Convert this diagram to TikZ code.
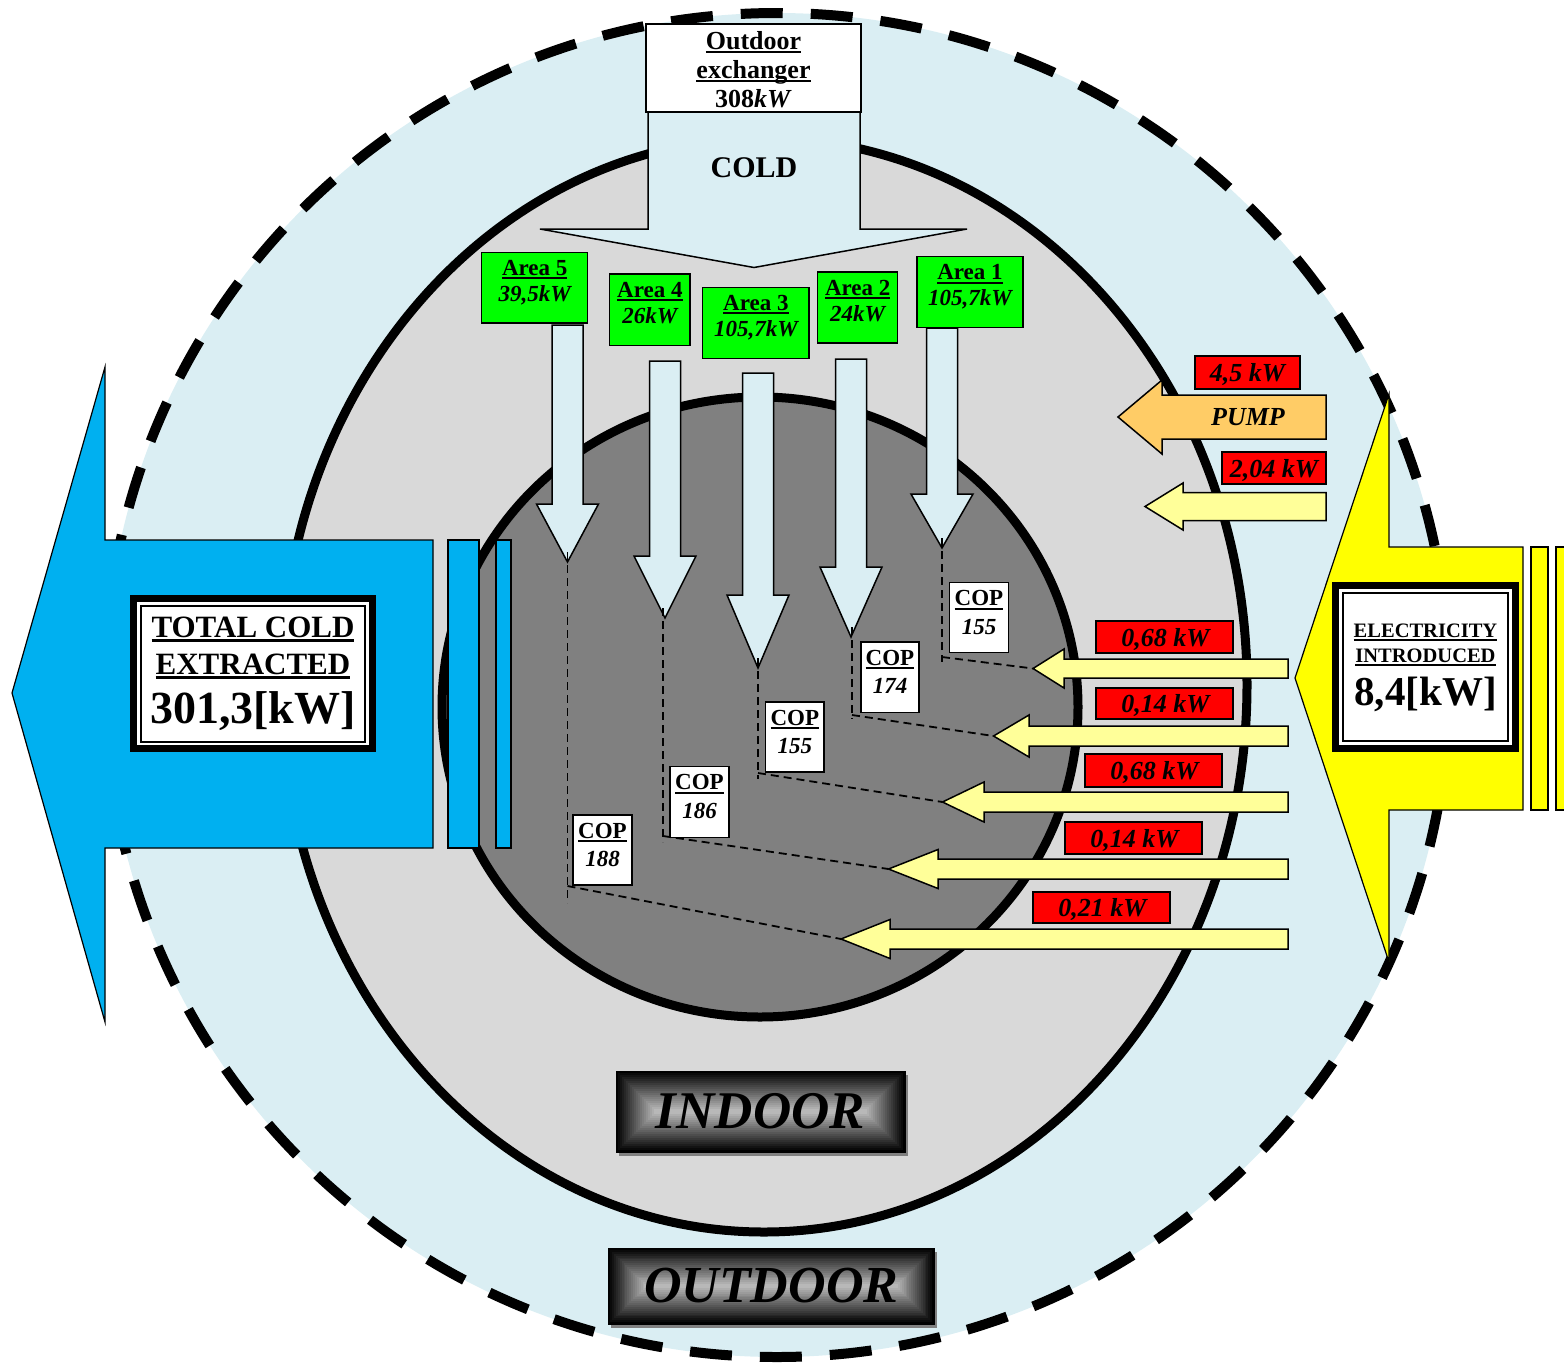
\documentclass[tikz,border=0pt]{standalone}
\usepackage{fontspec}
\setmainfont{Liberation Serif}
\usetikzlibrary{calc}

\definecolor{skyfill}{HTML}{DAEEF3}
\definecolor{ringgray}{HTML}{D9D9D9}
\definecolor{coregray}{HTML}{808080}
\definecolor{coldblue}{HTML}{00B0F0}
\definecolor{elecyellow}{HTML}{FFFF00}
\definecolor{paleyellow}{HTML}{FFFF99}
\definecolor{pumporange}{HTML}{FFCC66}
\definecolor{areagreen}{HTML}{00FF00}
\definecolor{kwred}{HTML}{FF0000}

% font size in px (1px = 1pt in this picture)
\newcommand\fsz[1]{\fontsize{#1pt}{#1pt}\selectfont}
% heavy underline
\newcommand\ulx[1]{\setbox0=\hbox{#1}\rlap{\rule[-0.17em]{\wd0}{0.09em}}\box0}

% block arrow pointing down: centre x, top, head base, tip
\newcommand\coldarrow[4]{%
  \draw[shapeline, fill=skyfill] (#1-15.5,#2) -- (#1-15.5,#3) -- (#1-31,#3) -- (#1,#4)
    -- (#1+31,#3) -- (#1+15.5,#3) -- (#1+15.5,#2) -- cycle;}
% block arrow pointing left: fill, tip x, tip y, head base x, head half height, shaft half height, right end
\newcommand\warmarrow[7]{%
  \draw[shapeline, fill=#1] (#2,#3) -- (#4,#3-#5) -- (#4,#3-#6) -- (#7,#3-#6)
    -- (#7,#3+#6) -- (#4,#3+#6) -- (#4,#3+#5) -- cycle;}
% plate with a dark rim and a light centre: x1, y1, x2, y2, inset step
\newcommand\bevelplate[5]{%
  \foreach \i in {0,...,19}{%
    \pgfmathsetmacro\shadeval{100-72*\i/19}%
    \fill[black!\shadeval] (#1+\i*#5,#2+\i*#5) rectangle (#3-\i*#5,#4-\i*#5);}}

\begin{document}
\begin{tikzpicture}[x=1pt, y=-1pt,
  shapeline/.style={draw=black, line width=1.5pt, line join=miter},
  areabox/.style={draw=black, line width=1.5pt, fill=areagreen, inner sep=0pt},
  kwbox/.style={draw=black, line width=1.5pt, fill=kwred, inner sep=0pt},
  copbox/.style={draw=black, line width=1.5pt, fill=white, inner sep=0pt},
  plain/.style={inner sep=0pt, outer sep=0pt},
  txt/.style={inner sep=0pt, anchor=base},
  areafont/.style={font=\fsz{23}\bfseries},
  valfont/.style={font=\fsz{23}\bfseries\itshape},
  kwfont/.style={font=\fsz{26}\bfseries\itshape},
  link/.style={draw=black, line width=1.8pt, dash pattern=on 8pt off 5pt}]

\useasboundingbox (0,0) rectangle (1564,1363);

% ---------- zones ----------
\draw[fill=skyfill, line width=10pt, dash pattern=on 42pt off 28pt]
  (777,685) circle[radius=672pt];
\draw[fill=ringgray, line width=9pt] (764,685) ellipse[x radius=483pt, y radius=547pt];
\draw[fill=coregray, line width=9pt] (760,707) ellipse[x radius=318pt, y radius=310pt];

% ---------- cold flow to the areas ----------
\coldarrow{567.5}{325}{504}{562}
\coldarrow{665}{361}{556}{618}
\coldarrow{758}{373}{595}{668}
\coldarrow{851}{359}{567}{637}
\coldarrow{942}{328}{494}{548}

\node[areabox, minimum width=106pt, minimum height=70.7pt] (area5) at (534.7,287.7) {};
\node[areabox, minimum width=80.3pt, minimum height=71.3pt] (area4) at (649.85,309.65) {};
\node[areabox, minimum width=106.3pt, minimum height=71pt] (area3) at (755.85,322.8) {};
\node[areabox, minimum width=80pt, minimum height=71pt] (area2) at (857.7,307.5) {};
\node[areabox, minimum width=106pt, minimum height=71pt] (area1) at (970,292.2) {};

\node[txt, areafont] (area5n) at (534.7,275.5) {\ulx{Area 5}};
\node[txt, valfont] (area5v) at (534.7,301.3) {39,5kW};
\node[txt, areafont] (area4n) at (649.85,297) {\ulx{Area 4}};
\node[txt, valfont] (area4v) at (649.85,323) {26kW};
\node[txt, areafont] (area3n) at (755.85,310.3) {\ulx{Area 3}};
\node[txt, valfont] (area3v) at (755.85,336.3) {105,7kW};
\node[txt, areafont] (area2n) at (857.7,295) {\ulx{Area 2}};
\node[txt, valfont] (area2v) at (857.7,321) {24kW};
\node[txt, areafont] (area1n) at (970,279.7) {\ulx{Area 1}};
\node[txt, valfont] (area1v) at (970,305.7) {105,7kW};

% ---------- outdoor exchanger ----------
\draw[shapeline, fill=skyfill] (648,112) -- (648,229) -- (540,229) -- (754,267.5)
  -- (967,229) -- (860,229) -- (860,112) -- cycle;
\node[copbox, minimum width=215pt, minimum height=88pt] (exch) at (753.5,68) {};
\node[txt, font=\fsz{26}\bfseries] (exch1) at (753.5,49) {\ulx{Outdoor}};
\node[txt, font=\fsz{26}\bfseries] (exch2) at (753.5,78) {\ulx{exchanger}};
\node[txt, font=\fsz{26}\bfseries] (exch3) at (753.5,107) {308\textit{kW}};
\node[txt, font=\fsz{30}\bfseries] (cold) at (754,177) {COLD};

% ---------- total cold extracted ----------
\draw[shapeline, line width=1.2pt, fill=coldblue] (12,693) -- (105,367) -- (105,540) -- (433,540)
  -- (433,848) -- (105,848) -- (105,1022) -- cycle;
\draw[shapeline, line width=1.2pt, fill=coldblue] (448,540) rectangle (479,848);
\draw[shapeline, line width=1.2pt, fill=coldblue] (496,540) rectangle (511,848);
\node[plain, fill=black, minimum width=246pt, minimum height=157pt] (coldframe) at (253,673.5) {};
\node[plain, fill=white, minimum width=232pt, minimum height=143pt] (coldinner) at (253,673.5) {};
\node[plain, draw=black, line width=1.5pt, minimum width=224pt, minimum height=136pt] (coldline) at (253,674) {};
\node[txt, font=\fsz{31}\bfseries] (cold1) at (253,637) {\ulx{TOTAL COLD}};
\node[txt, font=\fsz{31}\bfseries] (cold2) at (253,674) {\ulx{EXTRACTED}};
\node[txt, font=\fsz{46}\bfseries] (cold3) at (253,723) {301,3[kW]};

% ---------- electricity introduced ----------
\draw[shapeline, line width=1.2pt, fill=elecyellow] (1295,678) -- (1389,394) -- (1389,547) -- (1523,547)
  -- (1523,810) -- (1389,810) -- (1389,962) -- cycle;
\draw[shapeline, line width=1.2pt, fill=elecyellow] (1531,547) rectangle (1548,810);
\draw[shapeline, line width=1.2pt, fill=elecyellow] (1556,547) rectangle (1580,810);
\node[plain, fill=black, minimum width=187pt, minimum height=170pt] (elecframe) at (1425.5,667) {};
\node[plain, fill=white, minimum width=173pt, minimum height=156pt] (elecinner) at (1425.5,667) {};
\node[plain, draw=black, line width=1.5pt, minimum width=165pt, minimum height=148pt] (elecline) at (1425.5,667) {};
\node[txt, font=\fsz{20.5}\bfseries] (elec1) at (1425.5,637.7) {\ulx{ELECTRICITY}};
\node[txt, font=\fsz{20.5}\bfseries] (elec2) at (1425.5,662.3) {\ulx{INTRODUCED}};
\node[txt, font=\fsz{41}\bfseries] (elec3) at (1425.5,705.7) {8,4[kW]};

% ---------- electric feeds ----------
\warmarrow{pumporange}{1118}{417}{1162}{37}{22}{1326}
\warmarrow{paleyellow}{1145}{506.5}{1183}{23.5}{14}{1326}
\warmarrow{paleyellow}{1033}{668.5}{1064}{19.5}{9.5}{1288}
\warmarrow{paleyellow}{993.5}{736}{1029}{21}{10}{1288}
\warmarrow{paleyellow}{942.5}{802}{984}{20}{10}{1288}
\warmarrow{paleyellow}{888.5}{869}{938}{19.5}{10}{1288}
\warmarrow{paleyellow}{841}{939}{890}{19.5}{10}{1288}
\node[txt, kwfont] (pump) at (1248,425.7) {PUMP};

\node[kwbox, minimum width=105pt, minimum height=33pt] (kw45) at (1247.5,372.5) {};
\node[kwbox, minimum width=104pt, minimum height=32pt] (kw204) at (1274,468) {};
\node[kwbox, minimum width=137pt, minimum height=32pt] (kw1) at (1164.5,637) {};
\node[kwbox, minimum width=137pt, minimum height=31pt] (kw2) at (1164.5,703.5) {};
\node[kwbox, minimum width=137pt, minimum height=33pt] (kw3) at (1153.5,770.5) {};
\node[kwbox, minimum width=137pt, minimum height=32pt] (kw4) at (1133.5,838) {};
\node[kwbox, minimum width=137pt, minimum height=31pt] (kw5) at (1101.5,907.5) {};
\node[txt, kwfont] (kw45t) at (1247.5,381.5) {4,5 kW};
\node[txt, kwfont] (kw204t) at (1274,477) {2,04 kW};
\node[txt, kwfont] (kw1t) at (1165.5,646) {0,68 kW};
\node[txt, kwfont] (kw2t) at (1165.5,712.5) {0,14 kW};
\node[txt, kwfont] (kw3t) at (1154.5,779.5) {0,68 kW};
\node[txt, kwfont] (kw4t) at (1134.5,847) {0,14 kW};
\node[txt, kwfont] (kw5t) at (1102.5,916.5) {0,21 kW};

% ---------- links between areas and feeds ----------
\coordinate (d1top) at (942,538);   \coordinate (d1) at (942,657);   \coordinate (d1end) at (942,662);   \coordinate (f1) at (1033,668.5);
\coordinate (d2top) at (852,627);   \coordinate (d2) at (852,715);   \coordinate (d2end) at (852,719);   \coordinate (f2) at (993.5,736);
\coordinate (d3top) at (758,658);   \coordinate (d3) at (758,773);   \coordinate (d3end) at (758,779);   \coordinate (f3) at (942.5,802);
\coordinate (d4top) at (663,608);   \coordinate (d4) at (663,836);   \coordinate (d4end) at (663,842);   \coordinate (f4) at (888.5,869);
\coordinate (d5top) at (567.5,552); \coordinate (d5) at (567.5,886); \coordinate (d5end) at (567.5,903); \coordinate (f5) at (841,939);
\foreach \i in {1,...,5}{
  \draw[link] (d\i top) -- (d\i end);
  \draw[link] (d\i) -- (f\i);
}

% ---------- COP labels ----------
\node[copbox, minimum width=58.6pt, minimum height=70pt] (cop1) at (979,617.7) {};
\node[copbox, minimum width=58pt, minimum height=70.7pt] (cop2) at (890,677.3) {};
\node[copbox, minimum width=58.4pt, minimum height=70pt] (cop3) at (794.8,737) {};
\node[copbox, minimum width=59pt, minimum height=70.6pt] (cop4) at (699.5,802) {};
\node[copbox, minimum width=59pt, minimum height=70.3pt] (cop5) at (602.5,850) {};
\node[txt, areafont] (cop1a) at (979,605.7) {\ulx{COP}};
\node[txt, valfont] (cop1b) at (979,634.2) {155};
\node[txt, areafont] (cop2a) at (890,665) {\ulx{COP}};
\node[txt, valfont] (cop2b) at (890,693.5) {174};
\node[txt, areafont] (cop3a) at (794.8,725) {\ulx{COP}};
\node[txt, valfont] (cop3b) at (794.8,753.5) {155};
\node[txt, areafont] (cop4a) at (699.5,789.7) {\ulx{COP}};
\node[txt, valfont] (cop4b) at (699.5,818.2) {186};
\node[txt, areafont] (cop5a) at (602.5,838) {\ulx{COP}};
\node[txt, valfont] (cop5b) at (602.5,866.5) {188};

% ---------- zone plates ----------
\fill[coregray] (619,1075) rectangle (908,1156);
\bevelplate{616}{1071}{905}{1152}{2.025}
\node[plain, draw=black, line width=0.8pt, minimum width=289pt, minimum height=81pt,
  font=\fsz{53}\bfseries\itshape] (indoor) at (760.5,1111.5) {INDOOR};
\fill[coregray] (611.3,1252) rectangle (937,1328);
\bevelplate{608.3}{1248}{934}{1324}{1.9}
\node[plain, draw=black, line width=0.8pt, minimum width=325.7pt, minimum height=76pt,
  font=\fsz{52}\bfseries\itshape] (outdoor) at (771.2,1286) {OUTDOOR};

\end{tikzpicture}
\end{document}
